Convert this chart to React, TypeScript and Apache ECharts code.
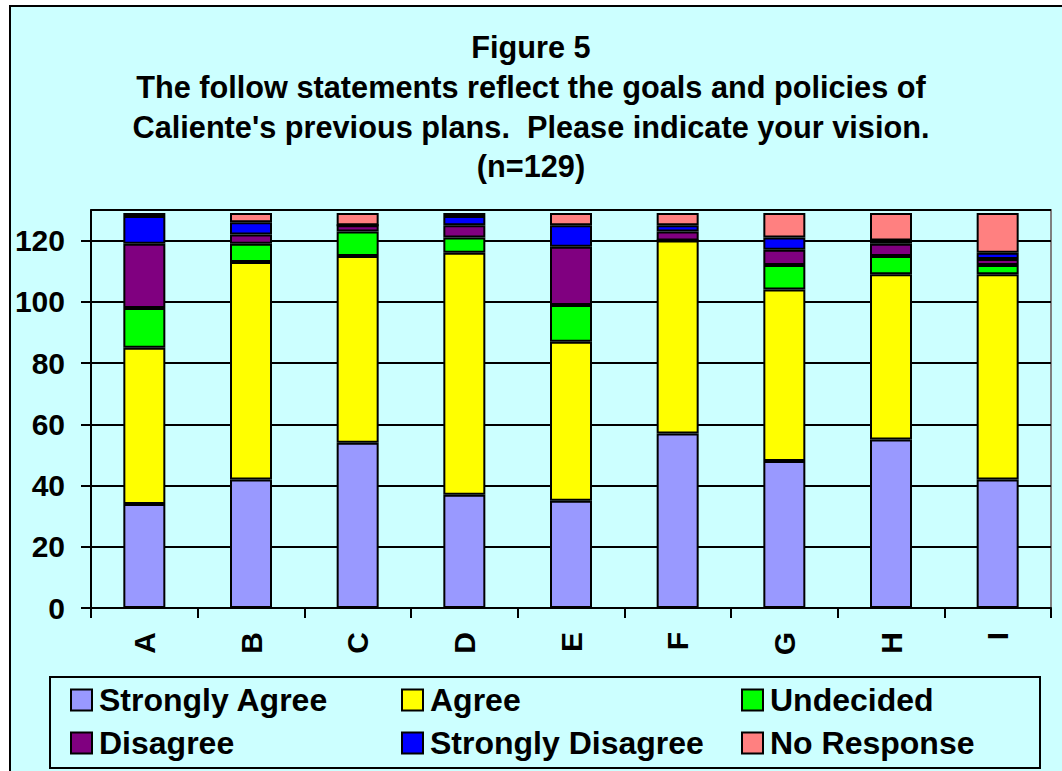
import React, { useEffect, useRef } from "react";
import * as echarts from "echarts";

const categories = ["A", "B", "C", "D", "E", "F", "G", "H", "I"];
const stronglyAgree = [34, 42, 54, 37, 35, 57, 48, 55, 42];
const agree = [51, 71, 61, 79, 52, 63, 56, 54, 67];
const undecided = [13, 6, 8, 5, 12, 0, 8, 6, 3];
const disagree = [21, 3, 2, 4, 19, 3, 5, 4, 2];
const stronglyDisagree = [9, 4, 0, 3, 7, 2, 4, 1, 2];
const noResponse = [1, 3, 4, 1, 4, 4, 8, 9, 13];
const yTicks = [0, 20, 40, 60, 80, 100, 120];
const titleLines = [
  "Figure 5",
  "The follow statements reflect the goals and policies of",
  "Caliente's previous plans.  Please indicate your vision.",
  "(n=129)",
];

const seriesDefs = [
  { name: "Strongly Agree", data: stronglyAgree, color: "#9999FF" },
  { name: "Agree", data: agree, color: "#FFFF00" },
  { name: "Undecided", data: undecided, color: "#00FF00" },
  { name: "Disagree", data: disagree, color: "#800080" },
  { name: "Strongly Disagree", data: stronglyDisagree, color: "#0000FF" },
  { name: "No Response", data: noResponse, color: "#FF8080" },
];

const FONT = "Arial, 'Liberation Sans', sans-serif";

export default function App() {
  const ref = useRef<HTMLDivElement>(null);
  useEffect(() => {
    document.body.style.margin = "0";
    const chart = echarts.init(ref.current!, null, { renderer: "svg" });
    const titleY = [47, 87, 127, 166];
    const legendCols = [
      { left: 70, data: ["Strongly Agree", "Disagree"] },
      { left: 401, data: ["Agree", "Strongly Disagree"] },
      { left: 741, data: ["Undecided", "No Response"] },
    ];
    chart.setOption({
      animation: false,
      backgroundColor: "transparent",
      textStyle: { fontFamily: FONT },
      graphic: [
        ...titleLines.map((t, i) => ({
          type: "text",
          x: 531,
          y: titleY[i],
          style: {
            text: t,
            textAlign: "center",
            textVerticalAlign: "middle",
            font: `bold 30.7px ${FONT}`,
            fill: "#000",
          },
        })),
        {
          type: "rect",
          shape: { x: 50, y: 677, width: 990, height: 91 },
          style: { fill: "none", stroke: "#000", lineWidth: 2 },
        },
      ],
      legend: legendCols.map((c) => ({
        orient: "vertical",
        left: c.left,
        top: 684,
        data: c.data,
        icon: "rect",
        itemWidth: 21,
        itemHeight: 21,
        itemGap: 11,
        padding: 0,
        selectedMode: false,
        itemStyle: { borderColor: "#000", borderWidth: 2 },
        textStyle: {
          fontSize: 32,
          fontWeight: "bold",
          color: "#000",
          fontFamily: FONT,
          lineHeight: 32,
          padding: [0, 0, 0, 2],
        },
      })),
      grid: {
        left: 91,
        top: 210,
        right: 11,
        bottom: 163,
        show: true,
        backgroundColor: "transparent",
        borderColor: "#808080",
        borderWidth: 2,
      },
      xAxis: {
        type: "category",
        data: categories,
        axisLine: { lineStyle: { color: "#000", width: 2 } },
        axisTick: { show: true, length: 10, lineStyle: { color: "#000", width: 2 } },
        axisLabel: {
          rotate: 90,
          margin: 24,
          fontSize: 30,
          fontWeight: "bold",
          color: "#000",
          fontFamily: FONT,
        },
      },
      yAxis: {
        type: "value",
        min: 0,
        max: 130,
        interval: 20,
        axisLine: { show: true, lineStyle: { color: "#000", width: 2 } },
        axisTick: { show: true, length: 10, lineStyle: { color: "#000", width: 2 } },
        axisLabel: {
          margin: 26,
          fontSize: 30,
          fontWeight: "bold",
          color: "#000",
          fontFamily: FONT,
          showMaxLabel: false,
          formatter: (v: number) => (yTicks.includes(v) ? String(v) : ""),
        },
        splitLine: { show: true, lineStyle: { color: "#000", width: 2 } },
      },
      series: seriesDefs.map((s) => ({
        name: s.name,
        type: "bar",
        stack: "total",
        data: s.data,
        barWidth: 42,
        itemStyle: { color: s.color, borderColor: "#000", borderWidth: 2 },
      })),
    });
    return () => chart.dispose();
  }, []);
  return (
    <div style={{ position: "fixed", left: 0, top: 0, width: 1062, height: 771, background: "#fff", overflow: "hidden" }}>
      <div
        style={{
          position: "absolute",
          left: 9,
          top: 5,
          width: 1200,
          height: 900,
          border: "2px solid #000",
          background: "#CCFFFF",
        }}
      />
      <div ref={ref} style={{ position: "absolute", left: 0, top: 0, width: 1062, height: 771 }} />
    </div>
  );
}
